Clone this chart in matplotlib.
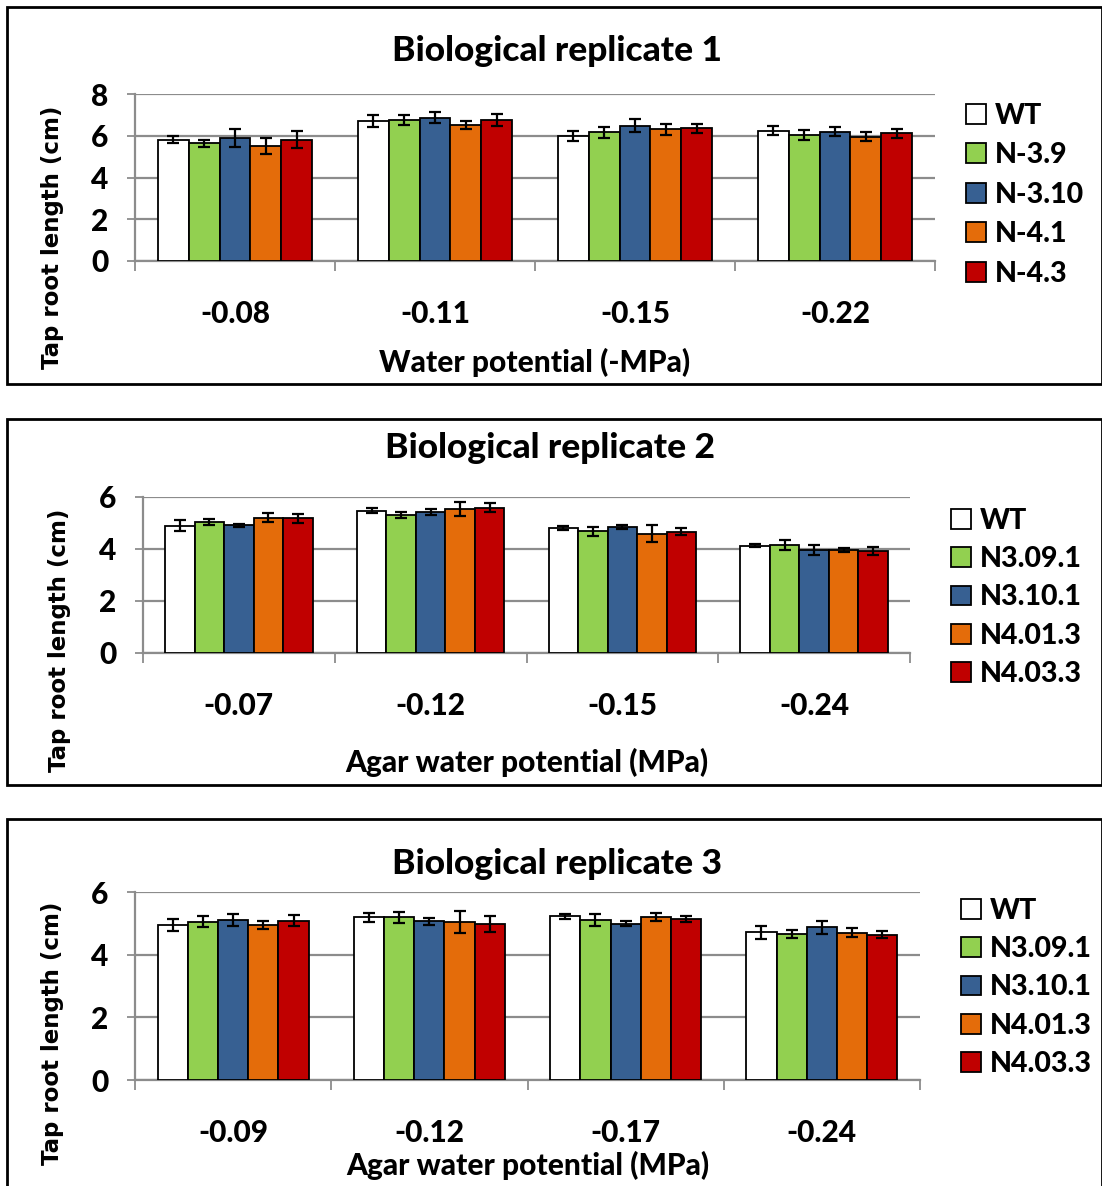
import matplotlib
matplotlib.use("Agg")
import matplotlib.pyplot as plt
import numpy as np
from matplotlib.patches import Rectangle, Patch

W, H = 1102, 1186

colors = ["#FFFFFF", "#92D050", "#376092", "#E46C0A", "#C00000"]

# replicate 1
cats1 = ["-0.08", "-0.11", "-0.15", "-0.22"]
labels1 = ["WT", "N-3.9", "N-3.10", "N-4.1", "N-4.3"]
vals1 = [
    [5.82, 6.70, 5.99, 6.25],   # WT
    [5.64, 6.76, 6.17, 6.03],   # N-3.9
    [5.88, 6.86, 6.49, 6.20],   # N-3.10
    [5.51, 6.52, 6.31, 5.96],   # N-4.1
    [5.82, 6.76, 6.35, 6.11],   # N-4.3
]
errs1 = [
    [0.19, 0.28, 0.24, 0.22],
    [0.18, 0.23, 0.26, 0.25],
    [0.42, 0.27, 0.29, 0.22],
    [0.39, 0.18, 0.26, 0.20],
    [0.42, 0.27, 0.21, 0.22],
]

# replicate 2
cats2 = ["-0.07", "-0.12", "-0.15", "-0.24"]
labels2 = ["WT", "N3.09.1", "N3.10.1", "N4.01.3", "N4.03.3"]
vals2 = [
    [4.90, 5.47, 4.81, 4.13],
    [5.03, 5.31, 4.68, 4.14],
    [4.91, 5.41, 4.85, 3.96],
    [5.21, 5.54, 4.59, 3.96],
    [5.18, 5.59, 4.67, 3.92],
]
errs2 = [
    [0.22, 0.10, 0.06, 0.05],
    [0.12, 0.11, 0.17, 0.19],
    [0.07, 0.11, 0.08, 0.18],
    [0.16, 0.28, 0.32, 0.06],
    [0.17, 0.18, 0.13, 0.16],
]

# replicate 3
cats3 = ["-0.09", "-0.12", "-0.17", "-0.24"]
labels3 = ["WT", "N3.09.1", "N3.10.1", "N4.01.3", "N4.03.3"]
vals3 = [
    [4.94, 5.19, 5.22, 4.71],
    [5.05, 5.19, 5.11, 4.67],
    [5.10, 5.06, 4.99, 4.87],
    [4.94, 5.04, 5.19, 4.70],
    [5.09, 4.98, 5.14, 4.64],
]
errs3 = [
    [0.19, 0.14, 0.09, 0.21],
    [0.17, 0.18, 0.20, 0.13],
    [0.19, 0.11, 0.09, 0.20],
    [0.13, 0.35, 0.13, 0.14],
    [0.18, 0.26, 0.09, 0.10],
]

panels = [
    dict(cats=cats1, labels=labels1, vals=vals1, errs=errs1, ymax=8,
         title="Biological replicate 1", xlabel="Water potential (-MPa)",
         ax=(135, 94, 935, 261), frame=(7, 7, 1102, 384),
         title_xy=(557, 51), xlab_y=362, ylab_xy=(52, 237),
         leg_xy=(966, 103), leg_sp=0.47),
    dict(cats=cats2, labels=labels2, vals=vals2, errs=errs2, ymax=6,
         title="Biological replicate 2", xlabel="Agar water potential (MPa)",
         ax=(143, 497, 910, 653), frame=(7, 419, 1102, 785),
         title_xy=(550, 448), xlab_y=762, ylab_xy=(60, 640),
         leg_xy=(951, 508), leg_sp=0.43),
    dict(cats=cats3, labels=labels3, vals=vals3, errs=errs3, ymax=6,
         title="Biological replicate 3", xlabel="Agar water potential (MPa)",
         ax=(135, 892, 920, 1080), frame=(7, 819, 1102, 1200),
         title_xy=(557, 864), xlab_y=1165, ylab_xy=(52, 1033),
         leg_xy=(961, 898), leg_sp=0.43),
]

FONT = "Lato"
WT_ = 900
fig = plt.figure(figsize=(W / 100, H / 100), dpi=100)

for p in panels:
    l, t, r, b = p["ax"]
    ax = fig.add_axes([l / W, 1 - b / H, (r - l) / W, (b - t) / H])
    n = len(p["cats"])
    x = np.arange(n)
    bw = 0.154
    for i in range(5):
        ax.bar(x + (i - 2) * bw, p["vals"][i], bw, color=colors[i],
               edgecolor="black", linewidth=1.3, zorder=3,
               yerr=p["errs"][i], capsize=4.5,
               error_kw=dict(elinewidth=1.6, capthick=1.6, ecolor="black"))
    ax.set_xlim(-0.5, n - 0.5)
    ax.set_ylim(0, p["ymax"])
    ax.set_yticks(np.arange(0, p["ymax"] + 1, 2))
    ax.yaxis.grid(True, color="#8c8c8c", linewidth=1.6, zorder=0)
    ax.set_axisbelow(True)
    for s in ["top", "right"]:
        ax.spines[s].set_visible(False)
    for s in ["left", "bottom"]:
        ax.spines[s].set_color("#8c8c8c")
        ax.spines[s].set_linewidth(1.6)
    ax.set_xticks(np.arange(-0.5, n, 1.0))
    ax.set_xticklabels([])
    ax.tick_params(axis="x", which="major", direction="out", length=7,
                   width=1.3, color="#8c8c8c")
    ax.set_xticks(x, minor=True)
    ax.set_xticklabels(p["cats"], minor=True, fontsize=21.5,
                       fontweight=WT_, family=FONT)
    ax.tick_params(axis="x", which="minor", length=0, pad=28)
    ax.tick_params(axis="y", direction="out", length=6, width=1.3,
                   color="#8c8c8c", pad=13)
    for lab in ax.get_yticklabels():
        lab.set_fontsize(21.5)
        lab.set_fontweight(WT_)
        lab.set_family(FONT)

    fl, ft, fr, fb = p["frame"]
    fig.add_artist(Rectangle((fl / W, 1 - fb / H), (fr - fl) / W, (fb - ft) / H,
                             transform=fig.transFigure, fill=False,
                             edgecolor="black", linewidth=2))
    tx, ty = p["title_xy"]
    fig.text(tx / W, 1 - ty / H, p["title"], ha="center", va="center",
             fontsize=25.5, fontweight=WT_, family=FONT)
    fig.text(((l + r) / 2) / W, 1 - p["xlab_y"] / H, p["xlabel"],
             ha="center", va="center", fontsize=21.5, fontweight=WT_,
             family=FONT)
    yx, yy = p["ylab_xy"]
    fig.text(yx / W, 1 - yy / H, "Tap root length (cm)", ha="center",
             va="center", rotation=90, fontsize=16.5, fontweight="bold",
             family="DejaVu Sans")

    handles = [Patch(facecolor=c, edgecolor="black", linewidth=1.3)
               for c in colors]
    lx, ly = p["leg_xy"]
    fig.legend(handles, p["labels"], loc="upper left",
               bbox_to_anchor=(lx / W, 1 - ly / H), frameon=False,
               prop=dict(family=FONT, weight=WT_, size=20.5),
               handlelength=0.7, handleheight=0.7, handletextpad=0.3,
               labelspacing=p["leg_sp"], borderaxespad=0, borderpad=0)

fig.savefig("out.png", dpi=100)
